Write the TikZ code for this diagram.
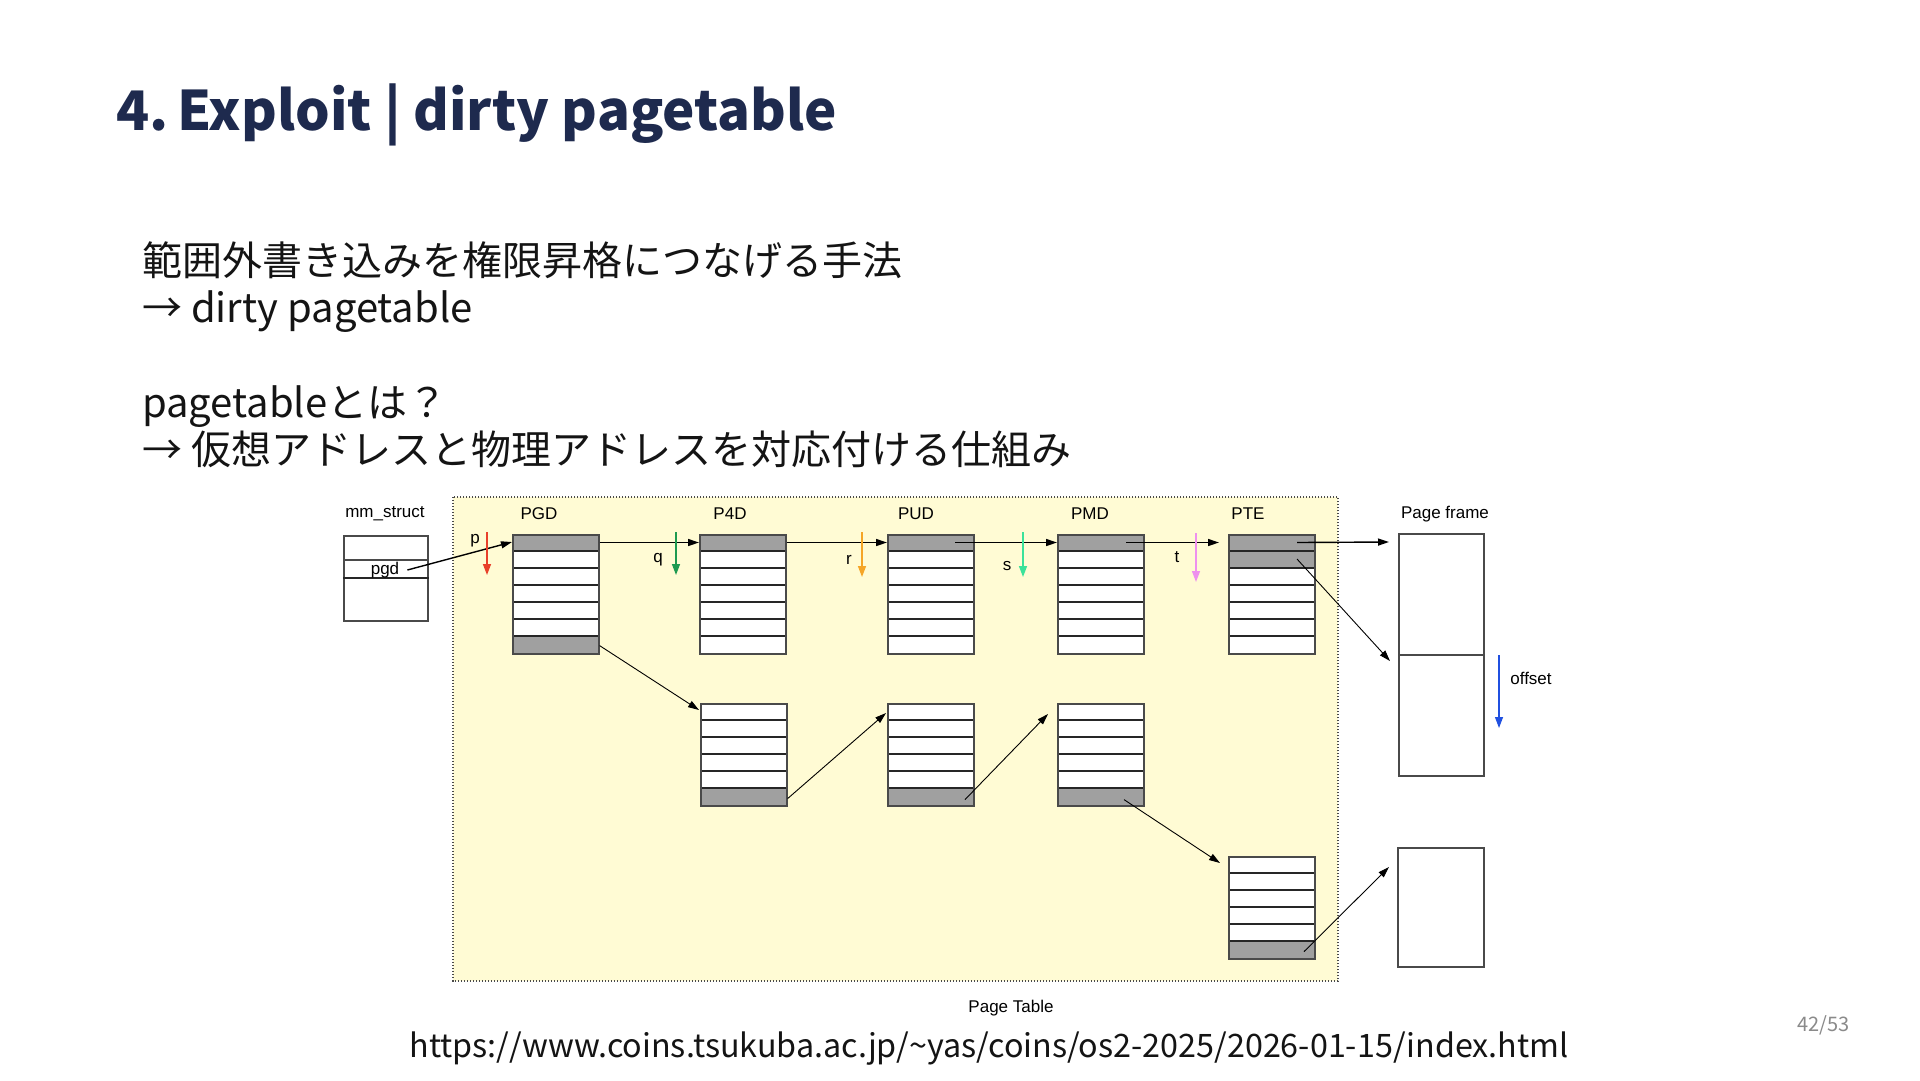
\documentclass[tikz,border=0pt]{standalone}
\usepackage{fontspec}
\setmainfont{Noto Sans CJK JP}
\newfontfamily\diafont{Liberation Sans}
\usetikzlibrary{arrows.meta}
\definecolor{titleblue}{HTML}{1E2A4E}
\definecolor{paleyellow}{HTML}{FFFBD4}
\definecolor{rowgray}{HTML}{A0A0A0}
\definecolor{edgegray}{HTML}{4A4A4A}
\definecolor{pred}{HTML}{E8402A}
\definecolor{qgreen}{HTML}{1E9A50}
\definecolor{rorange}{HTML}{F5A526}
\definecolor{smint}{HTML}{3AE29A}
\definecolor{tpink}{HTML}{EE90EE}
\definecolor{oblue}{HTML}{2050E0}
\definecolor{pagenum}{HTML}{8A8A8A}
\tikzset{
  tab/.style={draw=edgegray, line width=1.6pt, minimum width=86pt, inner sep=0pt},
  rowline/.style={draw=black!85, line width=1.3pt},
  arr/.style={line width=1.4pt, -{Triangle[length=11pt,width=7pt]}},
  thinarr/.style={line width=0.9pt, -{Triangle[length=11pt,width=7pt]}},
  colarr/.style={line width=1.4pt, -{Triangle[length=11pt,width=8pt]}},
  dlabel/.style={font=\diafont\fontsize{17}{20}\selectfont, inner sep=1pt},
  body/.style={anchor=base west, inner sep=0pt, font=\fontsize{40}{48}\selectfont, text=black!92},
}
\newcommand\pgtab[6]{%
  \fill[white] (#2,#3) rectangle ++(86,#4*17);
  \foreach \g in {#5}{\fill[rowgray] (#2,#3+\g*17-17) rectangle ++(86,17);}
  \foreach \k in {#6}{\draw[rowline] (#2,#3+\k*17) -- ++(86,0);}
  \node[tab, minimum height=#4*17pt, anchor=north west] (#1) at (#2,#3) {};
}
\begin{document}
\begin{tikzpicture}[x=1pt,y=-1pt]
\path[use as bounding box, fill=white] (0,0) rectangle (1920,1080);

% title and text
\node[anchor=base west, inner sep=0pt, text=titleblue, font=\fontsize{54.5}{55}\selectfont\bfseries] (title) at (116,130) {4.\hspace{0.16em}Exploit | dirty pagetable};
\node[body] (l1) at (142,275) {範囲外書き込みを権限昇格につなげる手法};
\node[body] (l2) at (142,322) {→ dirty pagetable};
\node[body] (l3) at (142,417) {pagetableとは？};
\node[body] (l4) at (142,464) {→ 仮想アドレスと物理アドレスを対応付ける仕組み};

% page table area
\draw[fill=paleyellow, draw=edgegray, line width=1.3pt, dash pattern=on 1.4pt off 1.6pt] (453,497) rectangle (1338,981);

% labels
\node[dlabel] (mmlbl) at (385,514) {mm\_struct};
\node[dlabel] (pgdtl) at (539,514) {PGD};
\node[dlabel] (p4dtl) at (730,514) {P4D};
\node[dlabel] (pudtl) at (916,514) {PUD};
\node[dlabel] (pmdtl) at (1090,514) {PMD};
\node[dlabel] (ptetl) at (1248,514) {PTE};
\node[dlabel] (pftl) at (1445,514) {Page frame};
\node[dlabel] (offl) at (1531,678) {offset};
\node[dlabel] (ptl) at (1011,1008) {Page Table};

% mm_struct
\node[tab, minimum width=84pt, minimum height=85pt, anchor=north west, fill=white] (mm) at (343,535) {};
\draw[rowline, draw=edgegray] ([yshift=-25pt]mm.north west) -- ([yshift=-25pt]mm.north east);
\draw[rowline] ([yshift=-43pt]mm.north west) -- ([yshift=-43pt]mm.north east);
\node[dlabel] (pgdlbl) at (385,570) {pgd};

% tables
\pgtab{pgd}{512}{534}{7}{1,7}{1,...,6}
\pgtab{pfd}{699}{534}{7}{1}{1,...,6}
\pgtab{pud}{887}{534}{7}{1}{1,...,6}
\pgtab{pmd}{1057}{534}{7}{1}{1,...,6}
\pgtab{pte}{1228}{534}{7}{1,2}{1,...,6}
\pgtab{pfdb}{700}{703}{6}{6}{1,...,5}
\pgtab{pudb}{887}{703}{6}{6}{1,...,5}
\pgtab{pmdb}{1057}{703}{6}{6}{1,...,5}
\pgtab{pteb}{1228}{856}{6}{6}{1,...,5}

% page frames
\node[tab, minimum width=85pt, minimum height=242pt, anchor=north west, fill=white] (pf1) at (1398,533) {};
\draw[tab] ([yshift=-122pt]pf1.north west) -- ([yshift=-122pt]pf1.north east);
\node[tab, minimum width=86pt, minimum height=119pt, anchor=north west, fill=white] (pf2) at (1397,847) {};

% connectors
\draw[arr] ([xshift=7pt]pgdlbl.east) -- ([yshift=-8pt]pgd.north west);
\draw[arr] ([yshift=-8.5pt]pgd.north east) -- ([yshift=-8.5pt]pfd.north west);
\draw[arr] ([yshift=-8.5pt]pfd.north east) -- ([yshift=-8.5pt]pud.north west);
\draw[arr] ([xshift=68pt,yshift=-8.5pt]pud.north west) -- ([yshift=-8.5pt]pmd.north west);
\draw[arr] ([xshift=69pt,yshift=-8.5pt]pmd.north west) -- ([xshift=-9pt,yshift=-8.5pt]pte.north west);
\draw[arr] ([xshift=69pt,yshift=-8.5pt]pte.north west) -- ([xshift=-9pt,yshift=-9pt]pf1.north west);
\draw[thinarr] ([xshift=69pt,yshift=-25pt]pte.north west) -- ([xshift=-8pt,yshift=-128pt]pf1.north west);
\draw[thinarr] ([yshift=9pt]pgd.south east) -- ([xshift=-1pt,yshift=-7pt]pfdb.north west);
\draw[thinarr] ([yshift=8pt]pfdb.south east) -- ([xshift=-1pt,yshift=-10pt]pudb.north west);
\draw[thinarr] ([xshift=78pt,yshift=7pt]pudb.south west) -- ([xshift=-9pt,yshift=-11pt]pmdb.north west);
\draw[thinarr] ([xshift=67pt,yshift=7pt]pmdb.south west) -- ([xshift=-8pt,yshift=-7pt]pteb.north west);
\draw[thinarr] ([xshift=76pt,yshift=8pt]pteb.south west) -- ([xshift=-8pt,yshift=-20pt]pf2.north west);

% index arrows
\coordinate (pa) at (487,532); \coordinate (pb) at (487,575);
\coordinate (qa) at (676,532); \coordinate (qb) at (676,575);
\coordinate (ra) at (862,532); \coordinate (rb) at (862,577);
\coordinate (sa) at (1023,532); \coordinate (sb) at (1023,577);
\coordinate (ta) at (1196,533); \coordinate (tb) at (1196,582);
\coordinate (oa) at (1499,655); \coordinate (ob) at (1499,728);
\draw[colarr, pred] (pa) -- (pb);
\draw[colarr, qgreen] (qa) -- (qb);
\draw[colarr, rorange] (ra) -- (rb);
\draw[colarr, smint] (sa) -- (sb);
\draw[colarr, tpink] (ta) -- (tb);
\draw[colarr, oblue, line width=1.2pt] (oa) -- (ob);
\node[dlabel] (plbl) at (475,541) {p};
\node[dlabel] (qlbl) at (658,560) {q};
\node[dlabel] (rlbl) at (849,560) {r};
\node[dlabel] (slbl) at (1007,566) {s};
\node[dlabel] (tlbl) at (1177,557) {t};

% footer
\node[anchor=base, inner sep=0pt, font=\fontsize{32.3}{38}\selectfont, text=black!92] (url) at (989,1057) {https://www.coins.tsukuba.ac.jp/\string~yas/coins/os2-2025/2026-01-15/index.html};
\node[anchor=base east, inner sep=0pt, font=\fontsize{20}{24}\selectfont, text=pagenum] (pnum) at (1850,1031) {42/53};
\end{tikzpicture}
\end{document}
